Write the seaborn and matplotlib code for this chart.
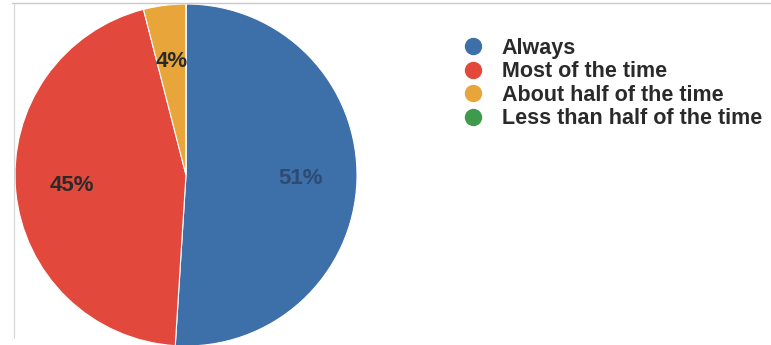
import matplotlib
matplotlib.use("Agg")
import matplotlib.pyplot as plt
from matplotlib.lines import Line2D
import numpy as np
import seaborn as sns

categories = ["Always", "Most of the time", "About half of the time", "Less than half of the time"]
values = [51, 45, 4, 0]
labels = ["51%", "45%", "4%", ""]
colors = ["#3d6fa8", "#e2483b", "#e8a53a", "#3e9a4c"]
label_colors = ["#2f4a72", "#2a2a2a", "#2a2a2a", "#2a2a2a"]

sns.set_theme(style="white")
plt.rcParams["font.family"] = ["Liberation Sans", "DejaVu Sans"]

fig = plt.figure(figsize=(7.71, 3.45), dpi=100)
fig.patch.set_facecolor("white")

# faint frame lines of the scanned page
fig.add_artist(Line2D([12 / 771, 1], [1 - 3 / 345, 1 - 3 / 345], color="#c8c8c8", lw=1.0))
fig.add_artist(Line2D([14 / 771, 14 / 771], [0.02, 1 - 3 / 345], color="#d4d4d4", lw=0.8))

cx, cy, r = 186, 175, 171
ax = fig.add_axes([(cx - r) / 771, (345 - cy - r) / 345, 2 * r / 771, 2 * r / 345])
wedges, _ = ax.pie(values, colors=colors, startangle=90, counterclock=False,
                   wedgeprops=dict(edgecolor="white", linewidth=0.8))
ax.set_xlim(-1, 1)
ax.set_ylim(-1, 1)
ax.set_aspect("equal")
ax.axis("off")

total = sum(values)
angle = 90.0
for v, lab, tc in zip(values, labels, label_colors):
    if v == 0:
        continue
    span = 360.0 * v / total
    mid = np.deg2rad(angle - span / 2)
    dist = 0.67
    ax.text(dist * np.cos(mid), dist * np.sin(mid), lab, ha="center", va="center",
            fontsize=16, fontweight="bold", color=tc)
    angle -= span

handles = [Line2D([0], [0], marker="o", linestyle="", markersize=11.5,
                  markerfacecolor=c, markeredgecolor=c) for c in colors]
leg = fig.legend(handles, categories, loc="upper left",
                 bbox_to_anchor=(462 / 771, 1 - 38 / 345), frameon=False,
                 prop=dict(size=15.5, weight="bold"), handletextpad=0.85,
                 labelspacing=0.11, borderpad=0, borderaxespad=0, handlelength=1.0)
for t in leg.get_texts():
    t.set_color("#2a2a2a")

fig.savefig("out.png", dpi=100, facecolor="white")
